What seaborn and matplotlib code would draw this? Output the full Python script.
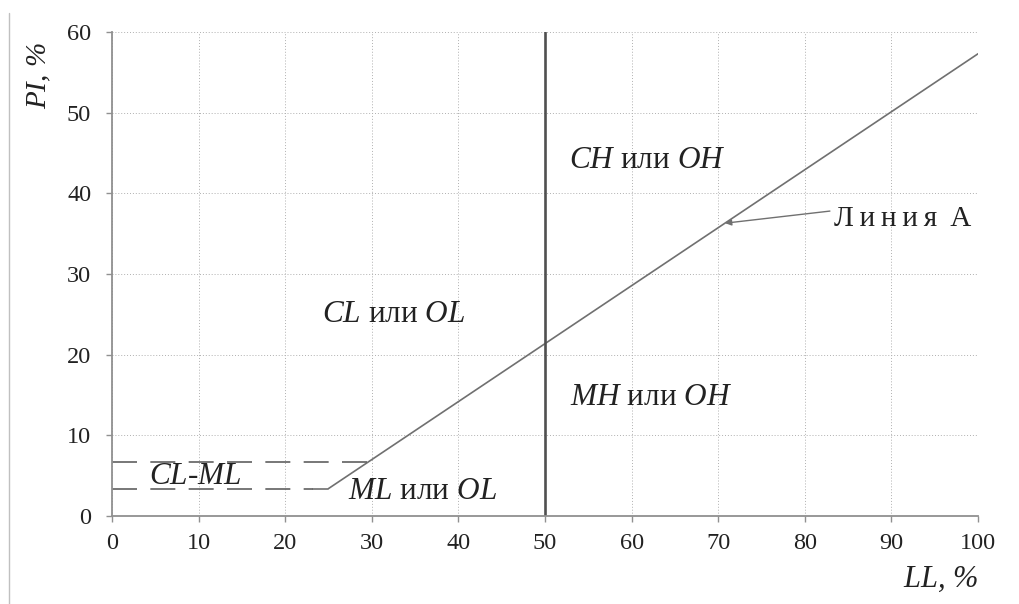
import matplotlib
matplotlib.use("Agg")
import matplotlib.pyplot as plt
import seaborn as sns
import pandas as pd

# Data
a_line_ll = [25.0, 100.0]
a_line_pi = [3.4, 57.3]
kink_ll = [23.2, 25.0]
kink_pi = [3.4, 3.4]
clml_low = 3.4
clml_high = 6.7
clml_low_end = 23.2
clml_high_end = 29.8
split_ll = 50
x_ticks = [0, 10, 20, 30, 40, 50, 60, 70, 80, 90, 100]
y_ticks = [0, 10, 20, 30, 40, 50, 60]
zone_labels = [
    (r"$\mathit{CH}$ или $\mathit{OH}$", 52.8, 43.2),
    (r"$\mathit{CL}$ или $\mathit{OL}$", 24.3, 24.0),
    (r"$\mathit{MH}$ или $\mathit{OH}$", 52.9, 13.8),
    (r"$\mathit{ML}$ или $\mathit{OL}$", 27.2, 2.1),
    (r"$\mathit{CL\text{-}ML}$", 4.3, 4.0),
]
arrow_label = "Л\u2009и\u2009н\u2009и\u2009я\u2009 А"
arrow_target = (70.8, 36.3)
arrow_tail = (82.9, 37.8)
arrow_text_pos = (83.4, 35.9)

sns.set_theme(style="white")
plt.rcParams["font.family"] = ["Liberation Serif", "DejaVu Serif"]
plt.rcParams["mathtext.fontset"] = "custom"
plt.rcParams["mathtext.rm"] = "Liberation Serif"
plt.rcParams["mathtext.it"] = "Liberation Serif:italic"

fig = plt.figure(figsize=(10.2, 6.04), dpi=100)
ax = fig.add_axes([112/1020, 1-516/604, (978-112)/1020, (516-32)/604])

df = pd.DataFrame({"LL": a_line_ll, "PI": a_line_pi})
sns.lineplot(data=df, x="LL", y="PI", ax=ax, color="#707070", linewidth=1.2)
ax.plot(kink_ll, kink_pi, color="#707070", linewidth=1.2)
ax.plot([0, clml_low_end], [clml_low, clml_low], color="#606060", linewidth=1.2,
        dashes=(15, 8))
ax.plot([0, clml_high_end], [clml_high, clml_high], color="#606060", linewidth=1.2,
        dashes=(15, 8))
ax.plot([split_ll, split_ll], [0, 60], color="#505050", linewidth=1.9)

ax.set_xlim(0, 100)
ax.set_ylim(0, 60)
ax.set_xticks(x_ticks)
ax.set_yticks(y_ticks)
ax.grid(True, color="#b0b0b0", linestyle=(0, (1, 2)), linewidth=0.7)
for s in ["top", "right"]:
    ax.spines[s].set_visible(False)
for s in ["left", "bottom"]:
    ax.spines[s].set_color("#909090")
    ax.spines[s].set_linewidth(1.3)
ax.tick_params(axis="both", which="both", direction="out", length=4, width=1,
               color="#909090", labelsize=17.5, labelcolor="#222222",
               left=True, bottom=True)
ax.tick_params(axis="x", pad=8)
ax.tick_params(axis="y", pad=11)

ax.set_xlabel(r"$\mathit{LL}$, %", fontsize=22, color="#222222")
ax.set_ylabel(r"$\mathit{PI}$, %", fontsize=21, color="#222222", rotation=90)
ax.xaxis.set_label_coords(0.957, -0.10)
ax.yaxis.set_label_coords(-0.068, 0.91)
ax.yaxis.label.set_fontstyle("italic")
ax.xaxis.label.set_fontstyle("italic")

for txt, x, y in zone_labels:
    ax.text(x, y, txt, fontsize=22.5, color="#222222", ha="left", va="baseline")

ax.text(arrow_text_pos[0], arrow_text_pos[1], arrow_label, fontsize=21,
        color="#222222", ha="left", va="baseline")
ax.annotate("", xy=arrow_target, xytext=arrow_tail,
            arrowprops=dict(arrowstyle="-|>", color="#707070", lw=1.0,
                            shrinkA=0, shrinkB=0, mutation_scale=9))

fig.add_artist(plt.Line2D([9/1020, 9/1020], [0, 1-13/604], color="#c0c0c0",
                          linewidth=1.0, transform=fig.transFigure))

fig.savefig("out.png", dpi=100)
